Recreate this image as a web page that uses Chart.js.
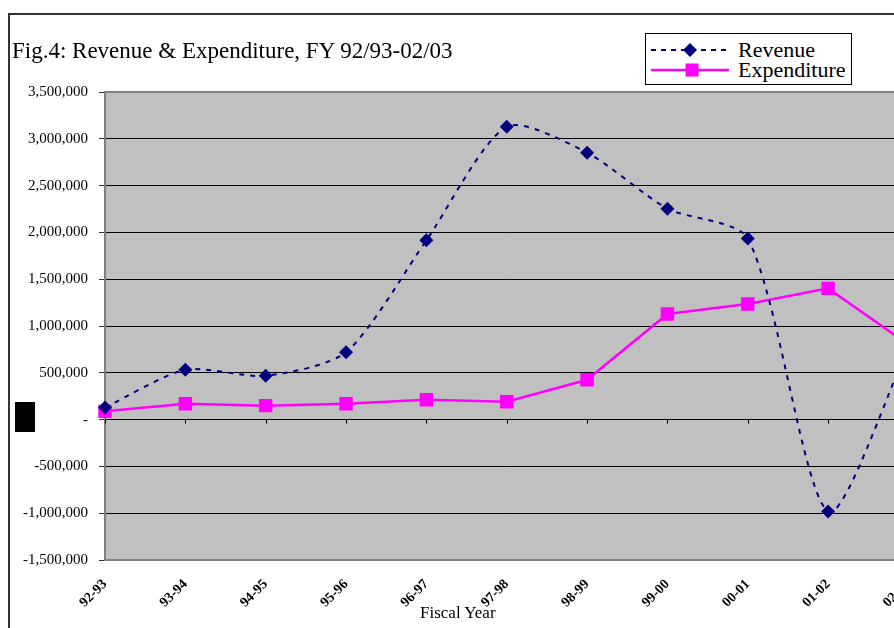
<!DOCTYPE html>
<html><head><meta charset="utf-8">
<script src="https://cdn.jsdelivr.net/npm/chart.js@4/dist/chart.umd.min.js"></script>
<style>
html,body{margin:0;padding:0;background:#fff;overflow:hidden;width:894px;height:628px;}
#wrap{position:absolute;left:0;top:0;width:918px;height:628px;}
#frame{position:absolute;left:8px;top:13px;width:900px;height:640px;border-left:2px solid #333;border-top:2px solid #333;}
#title{position:absolute;left:12px;top:38px;font:23px "Liberation Serif",serif;color:#000;white-space:nowrap;}
#legend{position:absolute;left:645px;top:33px;width:205px;height:50px;border:1px solid #000;background:#fff;}
#legend div{position:absolute;left:92px;font:22px "Liberation Serif",serif;line-height:22px;color:#000;white-space:nowrap;}
#blk{position:absolute;left:15px;top:402px;width:20px;height:30px;background:#000;}
#xt{position:absolute;left:420px;top:603px;font:17px "Liberation Serif",serif;color:#000;white-space:nowrap;}
</style></head>
<body>
<div id="frame"></div>
<div id="wrap"><canvas id="c" width="918" height="628"></canvas></div>
<div id="title">Fig.4: Revenue &amp; Expenditure, FY 92/93-02/03</div>
<div id="legend">
<svg width="205" height="50" style="position:absolute;left:0;top:0">
<line x1="5" y1="16" x2="83" y2="16" stroke="#000080" stroke-width="2" stroke-dasharray="5,5"/>
<polygon points="44,9 51,16 44,23 37,16" fill="#000080"/>
<line x1="5" y1="36" x2="83" y2="36" stroke="#FF00FF" stroke-width="2.5"/>
<rect x="39.5" y="29.5" width="13" height="13" fill="#FF00FF"/>
</svg>
<div style="top:5px">Revenue</div>
<div style="top:25px">Expenditure</div>
</div>
<div id="blk"></div>
<div id="xt">Fiscal Year</div>
<script>
const categories = ["92-93","93-94","94-95","95-96","96-97","97-98","98-99","99-00","00-01","01-02","02-03"];
const revenue = [130000, 532000, 468000, 720000, 1915000, 3130000, 2851000, 2254000, 1935000, -983000, 770000];
const expenditure = [88000, 170000, 149000, 170000, 213000, 191000, 425000, 1129000, 1235000, 1402000, 800000];
const yTicks = [-1500000,-1000000,-500000,0,500000,1000000,1500000,2000000,2500000,3000000,3500000];

const plotBg = {
  id:'plotBg',
  beforeDraw(chart){
    const {ctx, chartArea:a} = chart;
    ctx.save(); ctx.fillStyle='#C0C0C0';
    ctx.fillRect(a.left, a.top, a.right-a.left, a.bottom-a.top);
    ctx.restore();
  },
  beforeDatasetsDraw(chart){
    const {ctx, chartArea:a, scales} = chart;
    ctx.save();
    ctx.strokeStyle='#808080'; ctx.lineWidth=2;
    ctx.strokeRect(a.left, a.top, a.right-a.left+5, a.bottom-a.top);
    const y0 = scales.y.getPixelForValue(0);
    ctx.strokeStyle='#000'; ctx.lineWidth=1;
    for(let i=0;i<categories.length;i++){
      const x = Math.round(scales.x.getPixelForTick(i))+0.5;
      ctx.beginPath(); ctx.moveTo(x,y0); ctx.lineTo(x,y0+4); ctx.stroke();
    }
    ctx.restore();
  }
};

new Chart(document.getElementById('c'), {
  type:'line',
  data:{
    labels:categories,
    datasets:[
      {label:'Revenue', data:revenue, borderColor:'#000080', backgroundColor:'#000080',
       borderWidth:2, borderDash:[5,6], tension:0.25, pointStyle:'rectRot', pointRadius:7,
       pointBorderWidth:0, fill:false},
      {label:'Expenditure', data:expenditure, borderColor:'#FF00FF', backgroundColor:'#FF00FF',
       borderWidth:2.5, tension:0, pointStyle:'rect', pointRadius:9.5, pointBorderWidth:0, fill:false}
    ]
  },
  options:{
    responsive:false, animation:false, maintainAspectRatio:false,
    layout:{padding:{left:0,right:0,top:92,bottom:0}},
    plugins:{legend:{display:false}, title:{display:false}, tooltip:{enabled:false}},
    scales:{
      x:{
        offset:false,
        grid:{display:false, drawTicks:false},
        border:{display:false},
        ticks:{minRotation:45, maxRotation:45, autoSkip:false, padding:16,
               color:'#000', font:{family:'"Liberation Serif", serif', size:14, weight:'bold'}},
        afterFit(s){ s.height = 68; s.paddingRight = 0; s.paddingLeft = 0; }
      },
      y:{
        min:-1500000, max:3500000,
        afterBuildTicks(s){ s.ticks = yTicks.map(v=>({value:v})); },
        grid:{color:'#000', lineWidth:1, tickLength:6, tickColor:'#333', drawTicks:true},
        border:{display:false},
        ticks:{padding:11, color:'#000', font:{family:'"Liberation Serif", serif', size:15},
               callback:(v)=> v===0 ? '-' : v.toLocaleString('en-US')},
        afterFit(s){ s.width = 105; }
      }
    }
  },
  plugins:[plotBg]
});
</script>
</body></html>
